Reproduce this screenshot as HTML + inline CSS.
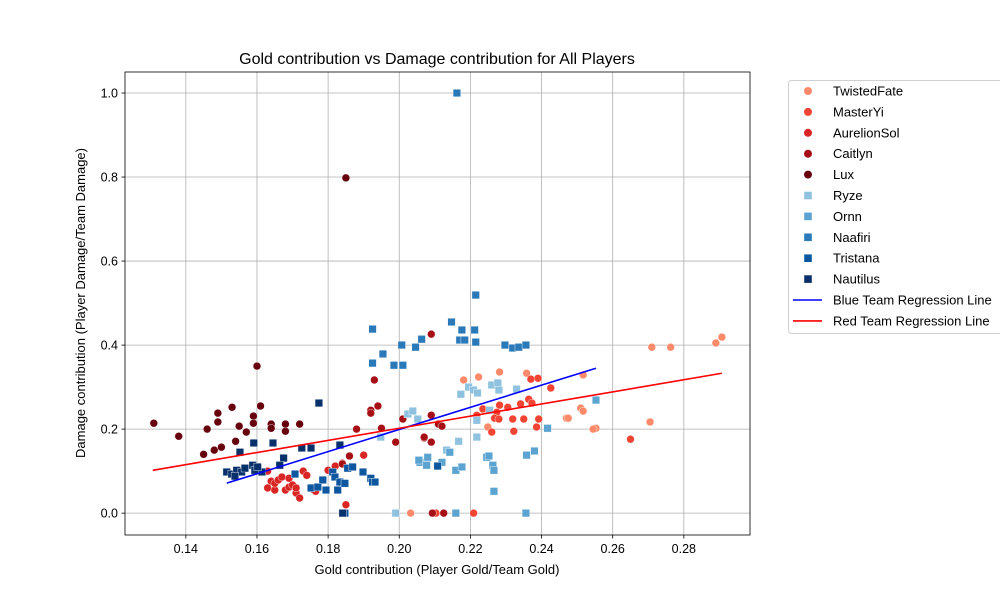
<!DOCTYPE html>
<html><head><meta charset="utf-8"><style>
body{margin:0;background:#fff;}
svg text{font-family:"Liberation Sans","DejaVu Sans",sans-serif;fill:#000;}
</style></head><body>
<svg id="chart" width="1000" height="600" xmlns="http://www.w3.org/2000/svg"></svg>
<script>
const xTicks=[0.14,0.16,0.18,0.20,0.22,0.24,0.26,0.28];
const xTickLabels=["0.14","0.16","0.18","0.20","0.22","0.24","0.26","0.28"];
const yTicks=[0,0.2,0.4,0.6,0.8,1.0];
const yTickLabels=["0.0","0.2","0.4","0.6","0.8","1.0"];
const seriesNames=["TwistedFate","MasterYi","AurelionSol","Caitlyn","Lux","Ryze","Ornn","Naafiri","Tristana","Nautilus"];
const seriesColors=["#fc8a6a","#f14432","#d92523","#a50f15","#67000d","#8fc2de","#5ba3d0","#2a7ab9","#0d56a0","#08306b"];
const seriesShapes=["o","o","o","o","o","s","s","s","s","s"];
const twistedFateX=[0.2907,0.289,0.2763,0.271,0.2705,0.2553,0.2517,0.251,0.2517,0.247,0.2181,0.2223,0.2282,0.2358,0.2249,0.2032,0.2475,0.2545];
const twistedFateY=[0.419,0.405,0.395,0.395,0.217,0.202,0.329,0.25,0.243,0.226,0.317,0.324,0.336,0.333,0.205,0,0.226,0.2];
const masterYiX=[0.237,0.239,0.2426,0.2364,0.2373,0.2341,0.2305,0.2282,0.2274,0.2268,0.228,0.2319,0.235,0.2392,0.2386,0.2322,0.226,0.2235,0.2218,0.2209,0.2103,0.265];
const masterYiY=[0.319,0.321,0.298,0.271,0.262,0.26,0.252,0.257,0.24,0.226,0.224,0.224,0.224,0.224,0.205,0.195,0.193,0.248,0.233,0,0,0.176];
const aurelionSolX=[0.163,0.163,0.164,0.165,0.165,0.166,0.167,0.168,0.169,0.169,0.170,0.171,0.171,0.172,0.173,0.174,0.176,0.1765,0.180,0.182,0.184,0.185,0.190];
const aurelionSolY=[0.1,0.06,0.076,0.055,0.071,0.079,0.086,0.055,0.083,0.062,0.067,0.048,0.06,0.036,0.1,0.09,0.055,0.052,0.102,0.112,0.119,0.02,0.138];
const caitlynX=[0.209,0.193,0.194,0.192,0.192,0.195,0.199,0.201,0.209,0.209,0.207,0.207,0.211,0.212,0.2125,0.186,0.184,0.188,0.2093];
const caitlynY=[0.426,0.317,0.255,0.245,0.238,0.202,0.169,0.224,0.233,0.169,0.179,0.181,0.212,0.207,0,0.136,0.117,0.2,0];
const luxX=[0.131,0.138,0.145,0.146,0.148,0.149,0.149,0.150,0.153,0.154,0.155,0.157,0.159,0.160,0.159,0.161,0.164,0.164,0.168,0.168,0.172,0.185];
const luxY=[0.214,0.183,0.14,0.20,0.15,0.217,0.238,0.157,0.252,0.171,0.207,0.193,0.231,0.35,0.214,0.255,0.212,0.202,0.195,0.212,0.212,0.798];
const ryzeX=[0.1948,0.2024,0.2038,0.2052,0.2167,0.2218,0.2173,0.2195,0.2209,0.222,0.226,0.2277,0.228,0.233,0.2254,0.2133,0.199,0.2218];
const ryzeY=[0.181,0.236,0.243,0.224,0.171,0.181,0.283,0.3,0.293,0.286,0.305,0.31,0.293,0.295,0.245,0.15,0,0.221];
const ornnX=[0.2058,0.208,0.2077,0.212,0.2142,0.2159,0.2176,0.2246,0.2252,0.2263,0.2266,0.2266,0.2358,0.238,0.2417,0.2553,0.2159,0.2356,0.2055];
const ornnY=[0.121,0.133,0.114,0.121,0.145,0.102,0.11,0.133,0.136,0.114,0.102,0.052,0.138,0.148,0.202,0.269,0,0,0.126];
const naafiriX=[0.2162,0.2215,0.2147,0.2176,0.2063,0.2046,0.2007,0.1954,0.1925,0.1925,0.1985,0.201,0.217,0.2184,0.2212,0.2215,0.2297,0.2319,0.2336,0.2356];
const naafiriY=[1.0,0.519,0.455,0.436,0.414,0.395,0.4,0.379,0.438,0.357,0.352,0.352,0.412,0.412,0.436,0.407,0.4,0.393,0.395,0.4];
const tristanaX=[0.1707,0.1752,0.1771,0.1785,0.1794,0.1813,0.1819,0.1827,0.1833,0.1847,0.1855,0.1869,0.1898,0.192,0.1925,0.1847,0.2108,0.1932,0.1603];
const tristanaY=[0.093,0.06,0.062,0.079,0.055,0.098,0.086,0.055,0.074,0.071,0.107,0.11,0.098,0.083,0.074,0,0.112,0.074,0.102];
const nautilusX=[0.1774,0.1591,0.1645,0.1552,0.1726,0.1752,0.1833,0.1675,0.1664,0.1515,0.1529,0.1543,0.1557,0.1566,0.1588,0.1594,0.1614,0.1538,0.1602,0.1841];
const nautilusY=[0.262,0.167,0.167,0.145,0.155,0.155,0.162,0.131,0.114,0.098,0.093,0.102,0.098,0.107,0.114,0.102,0.098,0.088,0.11,0];
const blueRegX=[0.1515,0.2553];
const blueRegY=[0.0714,0.345];
const redRegX=[0.1307,0.2907];
const redRegY=[0.102,0.333];

const seriesX=[twistedFateX,masterYiX,aurelionSolX,caitlynX,luxX,ryzeX,ornnX,naafiriX,tristanaX,nautilusX];
const seriesY=[twistedFateY,masterYiY,aurelionSolY,caitlynY,luxY,ryzeY,ornnY,naafiriY,tristanaY,nautilusY];

const L=125,R=750,T=72,B=535;
const X0=0.1229,X1=0.2986,Y0=-0.052,Y1=1.05;
function sx(v){return L+(v-X0)/(X1-X0)*(R-L);}
function sy(v){return B-(v-Y0)/(Y1-Y0)*(B-T);}
const NS="http://www.w3.org/2000/svg";
const svg=document.getElementById('chart');
function mk(tag,attrs,parent){const e=document.createElementNS(NS,tag);for(const k in attrs)e.setAttribute(k,attrs[k]);(parent||svg).appendChild(e);return e;}

const grid=mk('g',{});


xTicks.forEach((t,i)=>{
  const x=sx(t);
  mk('line',{x1:x,x2:x,y1:T,y2:B,stroke:'#b0b0b0','stroke-width':0.8},grid);
  mk('line',{x1:x,x2:x,y1:B,y2:B+3.5,stroke:'#000','stroke-width':0.8},grid);
  const tx=mk('text',{x:x,y:B+18,'text-anchor':'middle','font-size':12.5});
  tx.textContent=xTickLabels[i];
  
  
});
yTicks.forEach((t,i)=>{
  const y=sy(t);
  mk('line',{x1:L,x2:R,y1:y,y2:y,stroke:'#b0b0b0','stroke-width':0.8},grid);
  mk('line',{x1:L-3.5,x2:L,y1:y,y2:y,stroke:'#000','stroke-width':0.8},grid);
  const tx=mk('text',{x:L-7,y:y+4.5,'text-anchor':'end','font-size':12.5});
  tx.textContent=yTickLabels[i];
  
  
});

const marks=mk('g',{});


seriesNames.forEach((n,si)=>{
  const xs=seriesX[si],ys=seriesY[si];
  for(let i=0;i<xs.length;i++){
    const cx=sx(xs[i]),cy=sy(ys[i]);
    let e;
    if(seriesShapes[si]==='o') e=mk('circle',{cx:cx,cy:cy,r:3.9,fill:seriesColors[si],stroke:'#fff','stroke-width':0.4},marks);
    else e=mk('rect',{x:cx-3.8,y:cy-3.8,width:7.6,height:7.6,fill:seriesColors[si],stroke:'#fff','stroke-width':0.4},marks);
    
    
  }
});
const bl=mk('line',{x1:sx(blueRegX[0]),y1:sy(blueRegY[0]),x2:sx(blueRegX[1]),y2:sy(blueRegY[1]),stroke:'#0000ff','stroke-width':1.6});


const rl=mk('line',{x1:sx(redRegX[0]),y1:sy(redRegY[0]),x2:sx(redRegX[1]),y2:sy(redRegY[1]),stroke:'#ff0000','stroke-width':1.6});



const fr=mk('rect',{x:L,y:T,width:R-L,height:B-T,fill:'none',stroke:'#000','stroke-width':0.8});



const ti=mk('text',{x:437,y:64,'text-anchor':'middle','font-size':16});
ti.textContent='Gold contribution vs Damage contribution for All Players';


const xl=mk('text',{x:437,y:574,'text-anchor':'middle','font-size':13});
xl.textContent='Gold contribution (Player Gold/Team Gold)';


const yl=mk('text',{x:0,y:0,'text-anchor':'middle','font-size':13,transform:'translate(85,303) rotate(-90)'});
yl.textContent='Damage contribution (Player Damage/Team Damage)';



const lg=mk('g',{});


mk('rect',{x:788.5,y:80.5,width:230,height:253,rx:3,fill:'#fff',stroke:'#d0d0d0','stroke-width':1},lg);
const legNames=seriesNames.concat(['Blue Team Regression Line','Red Team Regression Line']);
legNames.forEach((n,i)=>{
  const y=91+i*20.9;
  const g=mk('g',{},lg);
  
  
  if(i<10){
    if(seriesShapes[i]==='o') mk('circle',{cx:808,cy:y,r:4,fill:seriesColors[i]},g);
    else mk('rect',{x:804.2,y:y-3.8,width:7.6,height:7.6,fill:seriesColors[i]},g);
  } else {
    mk('line',{x1:793,x2:822,y1:y,y2:y,stroke:i===10?'#0000ff':'#ff0000','stroke-width':1.6},g);
  }
  const t=mk('text',{x:833,y:y+4.5,'font-size':13},g);
  t.textContent=n;
});
</script>
</body></html>
